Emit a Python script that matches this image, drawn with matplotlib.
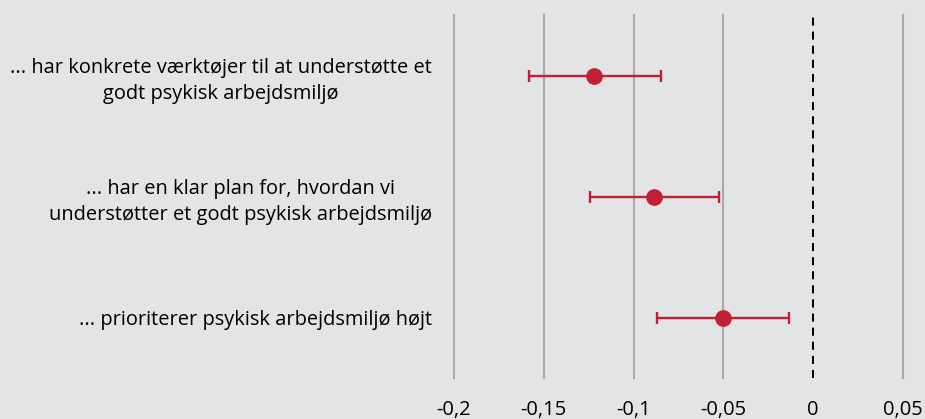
import matplotlib
matplotlib.use("Agg")
import matplotlib.pyplot as plt

plt.rcParams['font.family'] = ['Open Sans', 'DejaVu Sans']

labels = [
    "... har konkrete værktøjer til at understøtte et\ngodt psykisk arbejdsmiljø",
    "... har en klar plan for, hvordan vi\nunderstøtter et godt psykisk arbejdsmiljø",
    "... prioriterer psykisk arbejdsmiljø højt",
]
estimates = [-0.1218, -0.0884, -0.0503]
lower = [-0.1584, -0.1240, -0.0872]
upper = [-0.0849, -0.0527, -0.0134]
xticks = [-0.2, -0.15, -0.1, -0.05, 0, 0.05]
xticklabels = ["-0,2", "-0,15", "-0,1", "-0,05", "0", "0,05"]

bg = "#e3e4e6"
red = "#c41e34"

fig = plt.figure(figsize=(9.25, 4.19), dpi=100)
fig.patch.set_facecolor(bg)
ax = fig.add_axes([454/925, 41/419, 471/925, 363/419])
ax.set_facecolor(bg)

ypos = [1, 2, 3]
for xv in xticks:
    if xv == 0:
        ax.axvline(xv, color="black", lw=1.45, dashes=(4, 3), zorder=1,
                   clip_on=False)
    else:
        ax.axvline(xv, color="#a9a9a9", lw=1.5, zorder=1, clip_on=False)

xerr = [[e - l for e, l in zip(estimates, lower)],
        [u - e for e, u in zip(estimates, upper)]]
ax.errorbar(estimates, ypos, xerr=xerr, fmt="o", color=red, ecolor=red,
            elinewidth=1.7, capsize=4.3, capthick=1.7, markersize=11, zorder=3)

ax.set_xlim(-0.2, 0.05 + 22 / 89.8 * 0.05)
ax.set_ylim(3.5, 0.5)
ax.set_xticks(xticks)
ax.set_xticklabels(xticklabels, fontsize=14.5)
ax.set_yticks(ypos)
ax.set_yticklabels(labels, fontsize=14.4, linespacing=1.4)
for t in ax.get_yticklabels():
    t.set_multialignment("center")
ax.tick_params(axis="x", length=0, pad=16)
ax.tick_params(axis="y", length=0, pad=16)
for s in ax.spines.values():
    s.set_visible(False)

fig.savefig("out.png", dpi=100, facecolor=bg)
